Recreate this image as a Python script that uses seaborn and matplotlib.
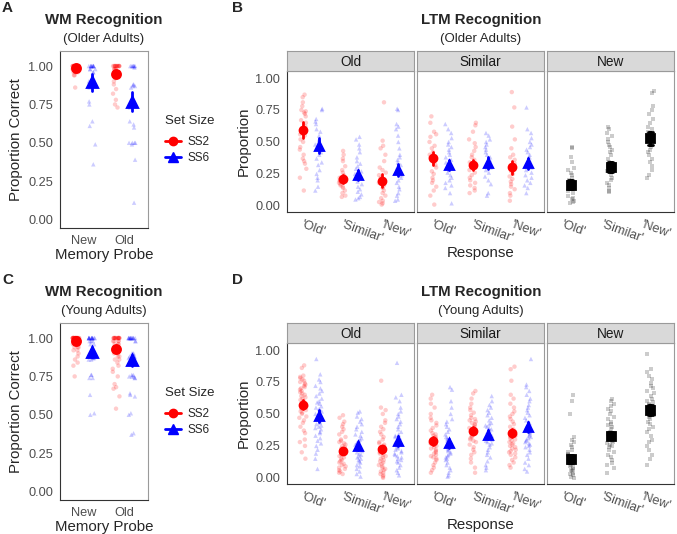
import numpy as np
import pandas as pd
import seaborn as sns
import matplotlib.pyplot as plt
from matplotlib.lines import Line2D
from matplotlib.transforms import ScaledTranslation

# ---------------- WM recognition, older adults (proportion correct) ----------------
oa_wm_new_ss2 = [1.0] * 16 + [0.98] * 6 + [0.96] * 4 + [0.94, 0.94, 0.86]
oa_wm_new_ss6 = [1.0] * 10 + [0.98] * 3 + [0.96, 0.96, 0.92, 0.9, 0.9, 0.9, 0.88, 0.88,
                                          0.86, 0.77, 0.75, 0.64, 0.61, 0.49, 0.36]
oa_wm_old_ss2 = [1.0] * 12 + [0.98] * 4 + [0.96] * 3 + [0.95, 0.92, 0.9, 0.88, 0.85,
                                                       0.82, 0.78, 0.75, 0.73]
oa_wm_old_ss6 = [1.0] * 7 + [0.99, 0.88, 0.88, 0.87, 0.87, 0.86, 0.76, 0.73, 0.64, 0.62,
                             0.6, 0.5, 0.5, 0.5, 0.5, 0.49, 0.39, 0.11]
# means and error half widths, order: New, Old
oa_wm_mean_ss2 = [0.989, 0.948]
oa_wm_err_ss2 = [0.01, 0.02]
oa_wm_mean_ss6 = [0.893, 0.767]
oa_wm_err_ss6 = [0.055, 0.063]

# ---------------- WM recognition, young adults ----------------
ya_wm_new_ss2 = [1.0] * 20 + [0.98] * 6 + [0.96] * 4 + [0.94] * 3 + [0.92, 0.92, 0.9, 0.88,
                                                                     0.86, 0.84, 0.82, 0.75]
ya_wm_new_ss6 = [1.0] * 15 + [0.98] * 3 + [0.96] * 2 + [0.9] * 4 + [0.88] * 5 + [0.87] * 3 + \
    [0.86, 0.86, 0.76, 0.76, 0.74, 0.74, 0.63, 0.51, 0.5]
ya_wm_old_ss2 = [1.0] * 14 + [0.98] * 4 + [0.96] * 3 + [0.94] * 3 + [0.92] * 3 + \
    [0.9, 0.9, 0.88, 0.88, 0.86, 0.86, 0.84, 0.82, 0.8, 0.78, 0.75, 0.7, 0.68, 0.67, 0.62, 0.54]
ya_wm_old_ss6 = [1.0] * 14 + [0.98] * 2 + [0.9] * 3 + [0.88] * 4 + [0.87, 0.87, 0.86, 0.86,
                                                                   0.76, 0.76, 0.75, 0.75, 0.75,
                                                                   0.74, 0.74, 0.64, 0.63, 0.62,
                                                                   0.51, 0.5, 0.38, 0.37]
ya_wm_mean_ss2 = [0.978, 0.931]
ya_wm_err_ss2 = [0.012, 0.02]
ya_wm_mean_ss6 = [0.909, 0.855]
ya_wm_err_ss6 = [0.035, 0.035]

# ---------------- LTM recognition, older adults ----------------
# probe Old
oa_old_rold_ss2 = [0.87, 0.85, 0.81, 0.78, 0.75, 0.74, 0.73, 0.72, 0.70, 0.67, 0.65, 0.62, 0.60,
                   0.58, 0.56, 0.55, 0.52, 0.50, 0.46, 0.44, 0.40, 0.37, 0.35, 0.33, 0.29, 0.22, 0.12]
oa_old_rold_ss6 = [0.76, 0.75, 0.68, 0.66, 0.64, 0.60, 0.58, 0.55, 0.52, 0.50, 0.48, 0.46, 0.44,
                   0.42, 0.40, 0.37, 0.34, 0.32, 0.28, 0.25, 0.22, 0.20, 0.15, 0.12]
oa_old_rsim_ss2 = [0.43, 0.40, 0.37, 0.35, 0.31, 0.28, 0.26, 0.24, 0.22, 0.21, 0.20, 0.19, 0.18,
                   0.17, 0.16, 0.15, 0.14, 0.12, 0.10, 0.08, 0.07]
oa_old_rsim_ss6 = [0.54, 0.52, 0.48, 0.45, 0.42, 0.38, 0.35, 0.33, 0.31, 0.29, 0.27, 0.25, 0.23,
                   0.21, 0.19, 0.17, 0.15, 0.13, 0.11, 0.09, 0.07, 0.06, 0.05]
oa_old_rnew_ss2 = [0.81, 0.51, 0.47, 0.45, 0.40, 0.35, 0.30, 0.28, 0.26, 0.24, 0.22, 0.20, 0.18,
                   0.16, 0.14, 0.12, 0.10, 0.08, 0.06, 0.04, 0.03, 0.02, 0.01]
oa_old_rnew_ss6 = [0.76, 0.75, 0.64, 0.62, 0.60, 0.55, 0.50, 0.45, 0.40, 0.38, 0.36, 0.34, 0.32,
                   0.30, 0.27, 0.24, 0.22, 0.20, 0.18, 0.15, 0.13, 0.10, 0.08, 0.05, 0.04]
# probe Similar
oa_sim_rold_ss2 = [0.70, 0.65, 0.58, 0.56, 0.54, 0.50, 0.47, 0.45, 0.42, 0.40, 0.38, 0.36, 0.34,
                   0.32, 0.30, 0.27, 0.25, 0.22, 0.20, 0.18, 0.15, 0.12, 0.08, 0.01]
oa_sim_rold_ss6 = [0.64, 0.60, 0.57, 0.53, 0.50, 0.48, 0.46, 0.44, 0.42, 0.40, 0.38, 0.36, 0.34,
                   0.32, 0.30, 0.28, 0.26, 0.24, 0.22, 0.20, 0.18, 0.16, 0.14, 0.10, 0.02]
oa_sim_rsim_ss2 = [0.65, 0.63, 0.58, 0.52, 0.49, 0.46, 0.43, 0.40, 0.38, 0.36, 0.34, 0.32, 0.30,
                   0.28, 0.26, 0.24, 0.22, 0.20, 0.18, 0.16, 0.14, 0.12, 0.10]
oa_sim_rsim_ss6 = [0.57, 0.55, 0.52, 0.50, 0.48, 0.46, 0.44, 0.42, 0.40, 0.38, 0.36, 0.34, 0.32,
                   0.30, 0.28, 0.26, 0.23, 0.20, 0.17, 0.10, 0.08]
oa_sim_rnew_ss2 = [0.89, 0.77, 0.62, 0.52, 0.45, 0.40, 0.38, 0.36, 0.33, 0.31, 0.29, 0.27, 0.25,
                   0.23, 0.21, 0.19, 0.17, 0.15, 0.13, 0.10, 0.08, 0.04]
oa_sim_rnew_ss6 = [0.77, 0.60, 0.57, 0.53, 0.50, 0.48, 0.46, 0.44, 0.42, 0.40, 0.38, 0.36, 0.34,
                   0.32, 0.30, 0.28, 0.26, 0.24, 0.22, 0.20, 0.18, 0.16, 0.14, 0.10]
# probe New (no set size)
oa_new_rold = [0.46, 0.45, 0.38, 0.34, 0.30, 0.28, 0.26, 0.24, 0.22, 0.20, 0.18, 0.16, 0.15,
               0.14, 0.12, 0.10, 0.08, 0.06, 0.05, 0.04, 0.03, 0.02]
oa_new_rsim = [0.62, 0.60, 0.57, 0.55, 0.52, 0.50, 0.48, 0.46, 0.44, 0.42, 0.40, 0.37, 0.34,
               0.31, 0.29, 0.27, 0.24, 0.22, 0.20, 0.18, 0.16, 0.14, 0.12, 0.11]
oa_new_rnew = [0.90, 0.88, 0.78, 0.75, 0.72, 0.68, 0.65, 0.62, 0.60, 0.58, 0.56, 0.54, 0.52,
               0.50, 0.48, 0.46, 0.44, 0.42, 0.40, 0.37, 0.34, 0.31, 0.28, 0.24, 0.22]
# means / error half widths, order of responses: 'Old', 'Similar', 'New'
oa_old_mean_ss2 = [0.594, 0.211, 0.198]
oa_old_err_ss2 = [0.065, 0.03, 0.05]
oa_old_mean_ss6 = [0.472, 0.242, 0.281]
oa_old_err_ss6 = [0.055, 0.04, 0.05]
oa_sim_mean_ss2 = [0.372, 0.32, 0.302]
oa_sim_err_ss2 = [0.05, 0.04, 0.05]
oa_sim_mean_ss6 = [0.322, 0.337, 0.333]
oa_sim_err_ss6 = [0.04, 0.045, 0.045]
oa_new_mean = [0.164, 0.307, 0.529]
oa_new_err = [0.035, 0.04, 0.05]

# ---------------- LTM recognition, young adults ----------------
ya_old_rold_ss2 = [0.88, 0.86, 0.80, 0.79, 0.78, 0.77, 0.76, 0.75, 0.74, 0.73, 0.72, 0.71, 0.70,
                   0.69, 0.68, 0.67, 0.66, 0.65, 0.64, 0.63, 0.62, 0.61, 0.60, 0.59, 0.58, 0.57,
                   0.56, 0.55, 0.54, 0.53, 0.52, 0.51, 0.50, 0.48, 0.47, 0.45, 0.43, 0.40, 0.37,
                   0.35, 0.30, 0.28, 0.25, 0.20, 0.15]
ya_old_rold_ss6 = [0.93, 0.81, 0.77, 0.75, 0.72, 0.70, 0.68, 0.66, 0.64, 0.62, 0.60, 0.59, 0.58,
                   0.56, 0.55, 0.54, 0.53, 0.52, 0.50, 0.49, 0.48, 0.47, 0.46, 0.45, 0.44, 0.43,
                   0.42, 0.41, 0.40, 0.39, 0.38, 0.36, 0.35, 0.33, 0.31, 0.29, 0.27, 0.25, 0.22,
                   0.19, 0.15, 0.07]
ya_old_rsim_ss2 = [0.49, 0.47, 0.44, 0.42, 0.40, 0.38, 0.36, 0.34, 0.32, 0.30, 0.29, 0.28, 0.27,
                   0.26, 0.25, 0.24, 0.23, 0.22, 0.21, 0.20, 0.19, 0.18, 0.17, 0.16, 0.15, 0.14,
                   0.13, 0.12, 0.11, 0.10, 0.09, 0.08, 0.07, 0.06, 0.05, 0.04, 0.03]
ya_old_rsim_ss6 = [0.52, 0.51, 0.48, 0.46, 0.44, 0.42, 0.40, 0.38, 0.36, 0.34, 0.33, 0.31, 0.30,
                   0.29, 0.28, 0.27, 0.26, 0.25, 0.24, 0.23, 0.22, 0.21, 0.20, 0.19, 0.18, 0.17,
                   0.16, 0.15, 0.14, 0.13, 0.12, 0.10, 0.09, 0.07, 0.05, 0.03, 0.01]
ya_old_rnew_ss2 = [0.76, 0.55, 0.53, 0.50, 0.45, 0.43, 0.40, 0.38, 0.36, 0.34, 0.32, 0.30, 0.28,
                   0.27, 0.26, 0.25, 0.24, 0.23, 0.22, 0.21, 0.20, 0.19, 0.18, 0.17, 0.16, 0.15,
                   0.14, 0.13, 0.12, 0.11, 0.10, 0.09, 0.08, 0.07, 0.06, 0.05, 0.04, 0.03, 0.02,
                   0.01, 0.0]
ya_old_rnew_ss6 = [0.90, 0.65, 0.63, 0.60, 0.55, 0.52, 0.50, 0.48, 0.46, 0.44, 0.42, 0.40, 0.38,
                   0.36, 0.34, 0.33, 0.32, 0.31, 0.30, 0.29, 0.28, 0.27, 0.26, 0.25, 0.24, 0.23,
                   0.22, 0.21, 0.20, 0.19, 0.18, 0.17, 0.16, 0.15, 0.14, 0.13, 0.12, 0.10, 0.08,
                   0.06, 0.04, 0.02]
ya_sim_rold_ss2 = [0.65, 0.62, 0.58, 0.55, 0.50, 0.47, 0.45, 0.43, 0.41, 0.39, 0.37, 0.35, 0.34,
                   0.33, 0.32, 0.31, 0.30, 0.29, 0.28, 0.27, 0.26, 0.25, 0.24, 0.23, 0.22, 0.21,
                   0.20, 0.19, 0.18, 0.17, 0.16, 0.15, 0.14, 0.12, 0.10, 0.08, 0.06, 0.04]
ya_sim_rold_ss6 = [0.71, 0.69, 0.60, 0.55, 0.50, 0.46, 0.44, 0.42, 0.40, 0.38, 0.36, 0.34, 0.32,
                   0.31, 0.30, 0.29, 0.28, 0.27, 0.26, 0.25, 0.24, 0.23, 0.22, 0.21, 0.20, 0.19,
                   0.18, 0.17, 0.16, 0.15, 0.14, 0.12, 0.10, 0.08, 0.06, 0.04, 0.02, 0.01]
ya_sim_rsim_ss2 = [0.68, 0.66, 0.62, 0.58, 0.55, 0.53, 0.51, 0.49, 0.47, 0.46, 0.45, 0.44, 0.43,
                   0.42, 0.41, 0.40, 0.39, 0.38, 0.37, 0.36, 0.35, 0.34, 0.33, 0.32, 0.31, 0.30,
                   0.29, 0.28, 0.26, 0.24, 0.22, 0.20, 0.18, 0.15, 0.12, 0.08, 0.04]
ya_sim_rsim_ss6 = [0.64, 0.60, 0.57, 0.55, 0.53, 0.51, 0.49, 0.47, 0.45, 0.43, 0.42, 0.41, 0.40,
                   0.39, 0.38, 0.37, 0.36, 0.35, 0.34, 0.33, 0.32, 0.31, 0.30, 0.29, 0.28, 0.27,
                   0.26, 0.24, 0.22, 0.20, 0.18, 0.16, 0.13, 0.10, 0.08, 0.06]
ya_sim_rnew_ss2 = [0.87, 0.85, 0.76, 0.65, 0.62, 0.58, 0.55, 0.52, 0.50, 0.48, 0.46, 0.44, 0.42,
                   0.40, 0.38, 0.36, 0.35, 0.34, 0.33, 0.32, 0.31, 0.30, 0.29, 0.28, 0.27, 0.26,
                   0.25, 0.24, 0.23, 0.22, 0.21, 0.20, 0.19, 0.18, 0.16, 0.14, 0.12, 0.10, 0.08]
ya_sim_rnew_ss6 = [0.93, 0.73, 0.71, 0.68, 0.65, 0.62, 0.60, 0.57, 0.55, 0.53, 0.51, 0.49, 0.47,
                   0.45, 0.43, 0.42, 0.41, 0.40, 0.39, 0.38, 0.37, 0.36, 0.35, 0.34, 0.33, 0.32,
                   0.31, 0.30, 0.29, 0.28, 0.27, 0.26, 0.25, 0.24, 0.22, 0.20, 0.18, 0.15, 0.12,
                   0.10, 0.07, 0.05]
ya_new_rold = [0.65, 0.60, 0.50, 0.32, 0.30, 0.28, 0.26, 0.24, 0.22, 0.20, 0.19, 0.18, 0.17,
               0.16, 0.15, 0.14, 0.13, 0.12, 0.11, 0.10, 0.09, 0.08, 0.07, 0.06, 0.05, 0.04,
               0.03, 0.02, 0.01, 0.0]
ya_new_rsim = [0.62, 0.60, 0.58, 0.56, 0.54, 0.52, 0.50, 0.48, 0.46, 0.44, 0.42, 0.41, 0.40,
               0.38, 0.36, 0.35, 0.34, 0.33, 0.32, 0.31, 0.30, 0.29, 0.28, 0.27, 0.26, 0.25,
               0.24, 0.22, 0.20, 0.18, 0.16, 0.14, 0.12, 0.10, 0.08, 0.04]
ya_new_rnew = [0.97, 0.85, 0.83, 0.80, 0.77, 0.74, 0.72, 0.70, 0.68, 0.66, 0.64, 0.62, 0.60,
               0.59, 0.58, 0.57, 0.56, 0.55, 0.54, 0.53, 0.52, 0.51, 0.50, 0.49, 0.48, 0.46,
               0.44, 0.42, 0.40, 0.38, 0.36, 0.33, 0.30, 0.28, 0.25, 0.22, 0.18, 0.15, 0.10]
ya_old_mean_ss2 = [0.573, 0.21, 0.223]
ya_old_err_ss2 = [0.035, 0.025, 0.03]
ya_old_mean_ss6 = [0.482, 0.249, 0.288]
ya_old_err_ss6 = [0.045, 0.03, 0.04]
ya_sim_mean_ss2 = [0.287, 0.37, 0.351]
ya_sim_err_ss2 = [0.03, 0.03, 0.035]
ya_sim_mean_ss6 = [0.269, 0.339, 0.395]
ya_sim_err_ss6 = [0.035, 0.035, 0.04]
ya_new_mean = [0.15, 0.331, 0.532]
ya_new_err = [0.03, 0.03, 0.04]

probes = ['New', 'Old']
responses = ["'Old'", "'Similar'", "'New'"]
sets = ['SS2', 'SS6']
pal = {'SS2': '#FF0000', 'SS6': '#0000FF'}
marks = {'SS2': 'o', 'SS6': '^'}


def points_df(cats, groups):
    rows = []
    for cat, vals in zip(cats, groups):
        for v in vals:
            rows.append({'x': cat, 'y': v})
    return pd.DataFrame(rows)


def summary_df(cats, means, errs):
    rows = []
    for cat, m, e in zip(cats, means, errs):
        for v in (m - e, m, m + e):
            rows.append({'x': cat, 'y': v})
    return pd.DataFrame(rows)


def style_axes(ax, first=True):
    for s in ['top', 'right']:
        ax.spines[s].set_color('#9a9a9a')
    ax.spines['left'].set_color('#333333' if first else '#9a9a9a')
    ax.spines['bottom'].set_color('#333333')
    for s in ax.spines.values():
        s.set_linewidth(0.8)
    ax.tick_params(axis='both', colors='#333333', labelcolor='#4d4d4d', labelsize=9.2,
                   length=3, width=0.8, direction='out', pad=2)
    if not first:
        ax.tick_params(axis='y', left=False, labelleft=False)


def hue_layers(ax, cats, pts_by_set, mean_by_set, err_by_set, msize, jitter=0.18):
    # individual participants, one call per set size (keeps the dodge of two levels)
    for s in sets:
        d = points_df(cats, pts_by_set[s])
        d['set'] = s
        sns.stripplot(data=d, x='x', y='y', hue='set', order=cats, hue_order=sets,
                      dodge=True, jitter=jitter, palette=pal, marker=marks[s], size=3.2,
                      alpha=0.2, linewidth=0, legend=False, ax=ax)
    for s in sets:
        d = summary_df(cats, mean_by_set[s], err_by_set[s])
        d['set'] = s
        sns.pointplot(data=d, x='x', y='y', hue='set', order=cats, hue_order=sets,
                      estimator=np.median, errorbar=('pi', 100), dodge=0.4, palette=pal,
                      markers=marks[s], linestyles='none',
                      markersize=msize + (1.2 if s == 'SS6' else 0),
                      err_kws={'linewidth': 2}, legend=False, ax=ax)


np.random.seed(3)
sns.set_theme(style='white')
plt.rcParams['font.family'] = ['Liberation Sans', 'DejaVu Sans']

W, H = 677, 534
fig = plt.figure(figsize=(6.77, 5.34), dpi=100)


def fx(px, py, w, h):
    return [px / W, 1 - (py + h) / H, w / W, h / H]


def wm_block(top, pts, means, errs, group):
    ax = fig.add_axes(fx(60, top + 51, 88, 177))
    hue_layers(ax, probes, pts, means, errs, msize=5.8)
    ax.set_xlim(-0.6, 1.6)
    ax.set_ylim(-0.055, 1.098)
    ax.set_yticks([0, 0.25, 0.5, 0.75, 1.0])
    ax.set_yticklabels(['0.00', '0.25', '0.50', '0.75', '1.00'])
    style_axes(ax)
    ax.set_xlabel('Memory Probe', fontsize=10.8, labelpad=1)
    ax.set_ylabel('Proportion Correct', fontsize=10.8, labelpad=4)
    fig.text(104 / W, 1 - (top + 20) / H, 'WM Recognition', ha='center', va='center',
             fontsize=10.8, fontweight='bold')
    fig.text(104 / W, 1 - (top + 39) / H, group, ha='center', va='center', fontsize=9.5)
    handles = [Line2D([0], [0], color=pal[s], marker=marks[s],
                      markersize=6 if s == 'SS2' else 7, linewidth=2) for s in sets]
    leg = ax.legend(handles, sets, title='Set Size', loc='upper left',
                    bbox_to_anchor=(154 / W, 1 - (top + 104) / H), bbox_transform=fig.transFigure,
                    frameon=False, fontsize=8.5, title_fontsize=9.5, handlelength=1.4,
                    handletextpad=0.5, labelspacing=0.35, alignment='left')
    leg._legend_box.sep = 7
    return ax


def ltm_block(top, facet_data, group):
    lefts = [287, 417, 547]
    facets = ['Old', 'Similar', 'New']
    for i, (left, name) in enumerate(zip(lefts, facets)):
        ax = fig.add_axes(fx(left, top + 71, 127, 141))
        pts, means, errs = facet_data[name]
        if name == 'New':
            d = points_df(responses, pts)
            sns.stripplot(data=d, x='x', y='y', order=responses, jitter=0.09, color='black',
                          marker='s', size=3.2, alpha=0.2, linewidth=0, ax=ax)
            sm = summary_df(responses, means, errs)
            sns.pointplot(data=sm, x='x', y='y', order=responses, estimator=np.median,
                          errorbar=('pi', 100), color='black', markers='s', linestyles='none',
                          markersize=5.5, capsize=0.12, err_kws={'linewidth': 2}, ax=ax)
        else:
            hue_layers(ax, responses, pts, means, errs, msize=5.0)
        ax.set_xlim(-0.6, 2.6)
        ax.set_ylim(-0.048, 1.055)
        ax.set_yticks([0, 0.25, 0.5, 0.75, 1.0])
        ax.set_yticklabels(['0.00', '0.25', '0.50', '0.75', '1.00'])
        style_axes(ax, first=(i == 0))
        ax.set_xlabel('')
        ax.set_ylabel('Proportion' if i == 0 else '', fontsize=10.8, labelpad=3)
        shift = ScaledTranslation(-7 / 100, 0, fig.dpi_scale_trans)
        for lab in ax.get_xticklabels():
            lab.set_rotation(-20)
            lab.set_ha('left')
            lab.set_va('top')
            lab.set_rotation_mode('anchor')
            lab.set_transform(lab.get_transform() + shift)
        # facet strip
        st = fig.add_axes(fx(left, top + 51, 127, 20))
        st.set_facecolor('#d9d9d9')
        st.set_xticks([])
        st.set_yticks([])
        for s in st.spines.values():
            s.set_color('#9a9a9a')
            s.set_linewidth(0.8)
        st.text(0.5, 0.45, name, ha='center', va='center', fontsize=9.8, color='#1a1a1a',
                transform=st.transAxes)
    fig.text(481 / W, 1 - (top + 253) / H, 'Response', ha='center', va='center', fontsize=10.8)
    fig.text(481 / W, 1 - (top + 20) / H, 'LTM Recognition', ha='center', va='center',
             fontsize=10.8, fontweight='bold')
    fig.text(481 / W, 1 - (top + 39) / H, group, ha='center', va='center', fontsize=9.5)


# --- panel A / C
wm_block(0, {'SS2': [oa_wm_new_ss2, oa_wm_old_ss2], 'SS6': [oa_wm_new_ss6, oa_wm_old_ss6]},
         {'SS2': oa_wm_mean_ss2, 'SS6': oa_wm_mean_ss6},
         {'SS2': oa_wm_err_ss2, 'SS6': oa_wm_err_ss6}, '(Older Adults)')
wm_block(272, {'SS2': [ya_wm_new_ss2, ya_wm_old_ss2], 'SS6': [ya_wm_new_ss6, ya_wm_old_ss6]},
         {'SS2': ya_wm_mean_ss2, 'SS6': ya_wm_mean_ss6},
         {'SS2': ya_wm_err_ss2, 'SS6': ya_wm_err_ss6}, '(Young Adults)')

# --- panel B / D
ltm_block(0, {
    'Old': ({'SS2': [oa_old_rold_ss2, oa_old_rsim_ss2, oa_old_rnew_ss2],
             'SS6': [oa_old_rold_ss6, oa_old_rsim_ss6, oa_old_rnew_ss6]},
            {'SS2': oa_old_mean_ss2, 'SS6': oa_old_mean_ss6},
            {'SS2': oa_old_err_ss2, 'SS6': oa_old_err_ss6}),
    'Similar': ({'SS2': [oa_sim_rold_ss2, oa_sim_rsim_ss2, oa_sim_rnew_ss2],
                 'SS6': [oa_sim_rold_ss6, oa_sim_rsim_ss6, oa_sim_rnew_ss6]},
                {'SS2': oa_sim_mean_ss2, 'SS6': oa_sim_mean_ss6},
                {'SS2': oa_sim_err_ss2, 'SS6': oa_sim_err_ss6}),
    'New': ([oa_new_rold, oa_new_rsim, oa_new_rnew], oa_new_mean, oa_new_err),
}, '(Older Adults)')
ltm_block(272, {
    'Old': ({'SS2': [ya_old_rold_ss2, ya_old_rsim_ss2, ya_old_rnew_ss2],
             'SS6': [ya_old_rold_ss6, ya_old_rsim_ss6, ya_old_rnew_ss6]},
            {'SS2': ya_old_mean_ss2, 'SS6': ya_old_mean_ss6},
            {'SS2': ya_old_err_ss2, 'SS6': ya_old_err_ss6}),
    'Similar': ({'SS2': [ya_sim_rold_ss2, ya_sim_rsim_ss2, ya_sim_rnew_ss2],
                 'SS6': [ya_sim_rold_ss6, ya_sim_rsim_ss6, ya_sim_rnew_ss6]},
                {'SS2': ya_sim_mean_ss2, 'SS6': ya_sim_mean_ss6},
                {'SS2': ya_sim_err_ss2, 'SS6': ya_sim_err_ss6}),
    'New': ([ya_new_rold, ya_new_rsim, ya_new_rnew], ya_new_mean, ya_new_err),
}, '(Young Adults)')

for lab, x, y in [('A', 2, 8), ('B', 232, 8), ('C', 2, 280), ('D', 232, 280)]:
    fig.text(x / W, 1 - y / H, lab, ha='left', va='center', fontsize=11, fontweight='bold')

fig.savefig('out.png', dpi=100)
